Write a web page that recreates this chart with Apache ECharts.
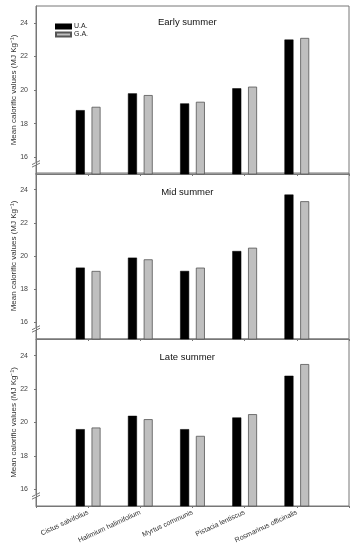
<!DOCTYPE html>
<html><head><meta charset="utf-8">
<script src="https://cdn.jsdelivr.net/npm/echarts@6/dist/echarts.min.js"></script>
<style>html,body{margin:0;padding:0;background:#fff}#c{width:359px;height:550px}</style>
</head><body><div id="c"></div>
<script>
const species = ['Cistus salvifolius','Halimium halimifolium','Myrtus communis','Pistacia lentiscus','Rosmarinus officinalis'];
const periods = ['Early summer','Mid summer','Late summer'];
const earlyUA = [18.8, 19.8, 19.2, 20.1, 23.0];
const earlyGA = [19.0, 19.7, 19.3, 20.2, 23.1];
const midUA = [19.3, 19.9, 19.1, 20.3, 23.7];
const midGA = [19.1, 19.8, 19.3, 20.5, 23.3];
const lateUA = [19.6, 20.4, 19.6, 20.3, 22.8];
const lateGA = [19.7, 20.2, 19.2, 20.5, 23.5];
const yTicks = [16, 18, 20, 22, 24];
const yMin = 15, yMax = 25;
const seriesUA = [earlyUA, midUA, lateUA];
const seriesGA = [earlyGA, midGA, lateGA];
// padded category list: empty slots at both ends of the axis
const xCats = [''].concat(species, ['']);

const FONT = 'Liberation Sans';
const grids = [
  {left: 36, right: 10, top: 6, height: 168},
  {left: 36, right: 10, top: 173, height: 166},
  {left: 36, right: 10, top: 339, height: 167}
].map(g => Object.assign(g, {show: true, containLabel: false, outerBoundsMode: 'none', borderColor: '#777', borderWidth: 1, backgroundColor: 'transparent'}));

const xAxes = [], yAxes = [], series = [];
periods.forEach((p, i) => {
  xAxes.push({
    type: 'category', gridIndex: i, data: xCats, boundaryGap: false,
    splitLine: {show: false},
    axisLine: {show: true, lineStyle: {color: '#777', width: 1}},
    axisTick: {show: true, length: 2, interval: 0, lineStyle: {color: '#777'}},
    axisLabel: {show: i === 2, interval: 0, rotate: 25, fontSize: 7, color: '#333', fontFamily: FONT, margin: 6}
  });
  yAxes.push({
    type: 'value', gridIndex: i, min: yMin, max: yMax,
    name: 'Mean calorific values (MJ Kg⁻¹)', nameLocation: 'middle', nameGap: 18.5, nameMoveOverlap: false,
    nameTextStyle: {fontSize: 8, color: '#333', fontFamily: FONT},
    splitLine: {show: false},
    axisLine: {show: true, lineStyle: {color: '#777', width: 1}},
    axisTick: {show: true, length: 2, customValues: yTicks, lineStyle: {color: '#777'}},
    axisLabel: {fontSize: 7, color: '#444', fontFamily: FONT, margin: 8, customValues: yTicks}
  });
  series.push({
    name: 'U.A.', type: 'bar', xAxisIndex: i, yAxisIndex: i,
    data: seriesUA[i].map((v, k) => [k + 1, v]),
    barWidth: 9, barGap: '75%',
    itemStyle: {color: '#000', borderColor: '#000', borderWidth: 0.5}
  });
  series.push({
    name: 'G.A.', type: 'bar', xAxisIndex: i, yAxisIndex: i,
    data: seriesGA[i].map((v, k) => [k + 1, v]),
    barWidth: 9, barGap: '75%',
    itemStyle: {color: '#bfbfbf', borderColor: '#555', borderWidth: 0.8}
  });
});

const chart = echarts.init(document.getElementById('c'), null, {renderer: 'canvas'});
chart.setOption({
  animation: false,
  backgroundColor: '#fff',
  textStyle: {fontFamily: FONT},
  grid: grids,
  xAxis: xAxes,
  yAxis: yAxes,
  series: series,
  legend: {
    data: ['U.A.', 'G.A.'], orient: 'vertical', left: 50, top: 18,
    icon: 'rect', itemWidth: 15, itemHeight: 4, itemGap: 1,
    textStyle: {fontSize: 7, color: '#222', fontFamily: FONT, padding: [0, 0, 0, -2]}
  }
});

const titleVal = [24.05, 23.85, 23.9];
const graphics = [];
periods.forEach((p, i) => {
  const a = chart.convertToPixel({gridIndex: i}, [2, titleVal[i]]);
  const b = chart.convertToPixel({gridIndex: i}, [3, titleVal[i]]);
  graphics.push({type: 'text', x: b[0] - 0.1 * (b[0] - a[0]), y: b[1], style: {text: p, fontSize: 9.5, fill: '#111', fontFamily: FONT, align: 'center', verticalAlign: 'middle'}});
  const bp = chart.convertToPixel({gridIndex: i}, [0, 15.62]);
  const x = bp[0], y = bp[1];
  graphics.push({type: 'rect', shape: {x: x - 1, y: y - 1.5, width: 2, height: 3}, style: {fill: '#fff'}});
  graphics.push({type: 'line', shape: {x1: x - 4, y1: y + 1, x2: x + 4, y2: y - 3}, style: {stroke: '#555', lineWidth: 0.8}});
  graphics.push({type: 'line', shape: {x1: x - 4, y1: y + 3.5, x2: x + 4, y2: y - 0.5}, style: {stroke: '#555', lineWidth: 0.8}});
});
chart.setOption({graphic: graphics});
</script>
</body></html>
